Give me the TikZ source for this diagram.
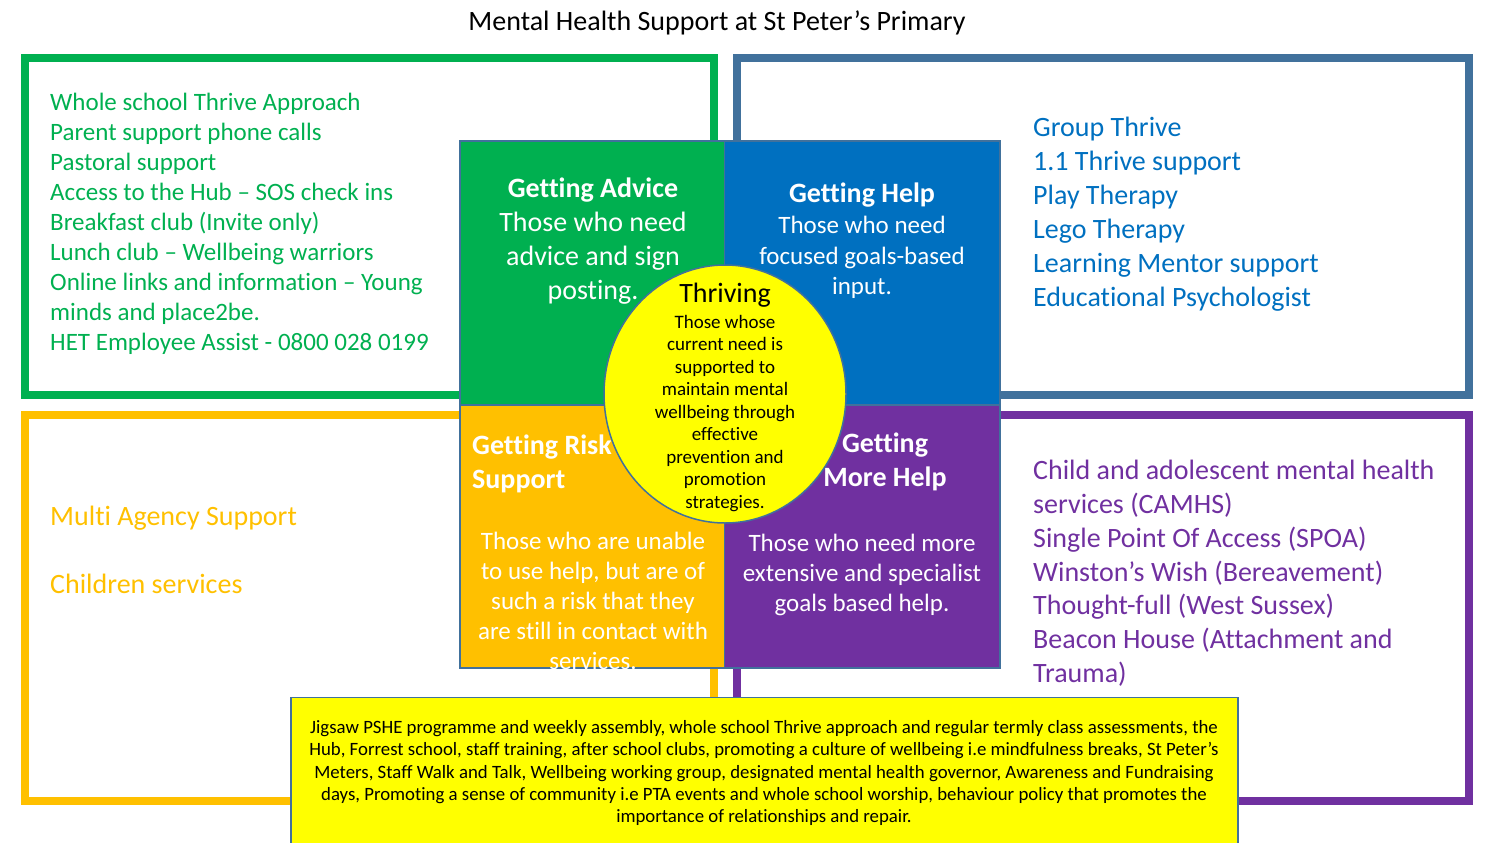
\documentclass[tikz,border=0pt]{standalone}
\usepackage{fontspec}
\setmainfont{Carlito}[Ligatures=NoCommon]
\definecolor{cgreen}{HTML}{00B050}
\definecolor{cframeblue}{HTML}{41719C}
\definecolor{cblue}{HTML}{0070C0}
\definecolor{corange}{HTML}{FFC000}
\definecolor{cpurple}{HTML}{7030A0}
\definecolor{cyellow}{HTML}{FFFF00}
\tikzset{
  frame/.style={line width=8pt},
  quad/.style={draw=cframeblue, line width=1.5pt},
  listtxt/.style={anchor=north west, inner sep=0pt, align=left},
  ctxt/.style={anchor=north, inner sep=0pt, align=center},
}
\begin{document}
\begin{tikzpicture}[x=1pt,y=-1pt]
\useasboundingbox (0,0) rectangle (1496,843);
% title
\node[ctxt, font=\fontsize{28}{30}\selectfont] (title) at (717,10.5) {Mental Health Support at St Peter’s Primary};
% outer frames
\draw[frame, cgreen] (25,58) rectangle (714,395);
\draw[frame, cframeblue] (736.5,58) rectangle (1469,395);
\draw[frame, corange] (25,415) rectangle (714,801);
\draw[frame, cpurple] (736.5,415) rectangle (1469,801);
% lists
\node[listtxt, text=cgreen, font=\fontsize{25}{30.1}\selectfont] (greenlist) at (50,92.5)
 {Whole school Thrive Approach\\Parent support phone calls\\Pastoral support\\Access to the Hub – SOS check ins\\Breakfast club (Invite only)\\Lunch club – Wellbeing warriors\\Online links and information – Young\\minds and place2be.\\HET Employee Assist - 0800 028 0199};
\node[listtxt, text=cblue, font=\fontsize{28}{34}\selectfont] (bluelist) at (1033,117)
 {Group Thrive\\1.1 Thrive support\\Play Therapy\\Lego Therapy\\Learning Mentor support\\Educational Psychologist};
\node[listtxt, text=corange, font=\fontsize{28}{34}\selectfont] (orangelist) at (50,506)
 {Multi Agency Support\\[34pt]Children services};
\node[listtxt, text=cpurple, font=\fontsize{28}{33.8}\selectfont] (purplelist) at (1033,460)
 {Child and adolescent mental health\\services (CAMHS)\\Single Point Of Access (SPOA)\\Winston’s Wish (Bereavement)\\Thought-full (West Sussex)\\Beacon House (Attachment and\\Trauma)};
% quadrants
\draw[quad, fill=cgreen] (460,141) rectangle (724.5,405) coordinate (qa);
\draw[quad, fill=cblue] (724.5,141) rectangle (1000,405) coordinate (qh);
\draw[quad, fill=corange] (460,405) rectangle (724.5,668) coordinate (qr);
\draw[quad, fill=cpurple] (724.5,405) rectangle (1000,668) coordinate (qm);
% quadrant texts
\node[ctxt, text=white, font=\fontsize{28}{34}\selectfont] (advice) at (593,178)
 {\textbf{Getting Advice}\\Those who need\\advice and sign\\posting.};
\node[ctxt, text=white, font=\fontsize{28}{30}\selectfont\bfseries] (helptitle) at (862,183) {Getting Help};
\node[ctxt, text=white, font=\fontsize{25}{30.5}\selectfont] (helpbody) at (862,216)
 {Those who need\\focused goals-based\\input.};
\node[listtxt, text=white, font=\fontsize{28}{34}\selectfont\bfseries] (risktitle) at (472,434.5)
 {Getting Risk\\Support};
\node[ctxt, text=white, font=\fontsize{25}{30}\selectfont] (riskbody) at (593,531.5)
 {Those who are unable\\to use help, but are of\\such a risk that they\\are still in contact with\\services.};
\node[ctxt, text=white, font=\fontsize{28}{34}\selectfont\bfseries] (moretitle) at (885,432.5)
 {Getting\\More Help};
\node[ctxt, text=white, font=\fontsize{25}{30}\selectfont] (morebody) at (862,533.5)
 {Those who need more\\extensive and specialist\\goals based help.};
% circle
\draw[quad, fill=cyellow] (725,394) ellipse [x radius=121, y radius=129];
\node[ctxt, font=\fontsize{28}{30}\selectfont] (thrtitle) at (725,283) {Thriving};
\node[ctxt, font=\fontsize{19}{22.5}\selectfont] (thrbody) at (725,315)
 {Those whose\\current need is\\supported to\\maintain mental\\wellbeing through\\effective\\prevention and\\promotion\\strategies.};
% bottom box
\draw[quad, fill=cyellow] (291,697.5) rectangle (1238,860);
\node[ctxt, font=\fontsize{18.8}{22.4}\selectfont] (bottomtxt) at (764,720)
 {Jigsaw PSHE programme and weekly assembly, whole school Thrive approach and regular termly class assessments, the\\
  Hub, Forrest school, staff training, after school clubs, promoting a culture of wellbeing i.e mindfulness breaks, St Peter’s\\
  Meters, Staff Walk and Talk, Wellbeing working group, designated mental health governor, Awareness and Fundraising\\
  days, Promoting a sense of community i.e PTA events and whole school worship, behaviour policy that promotes the\\
  importance of relationships and repair.};
\end{tikzpicture}
\end{document}
